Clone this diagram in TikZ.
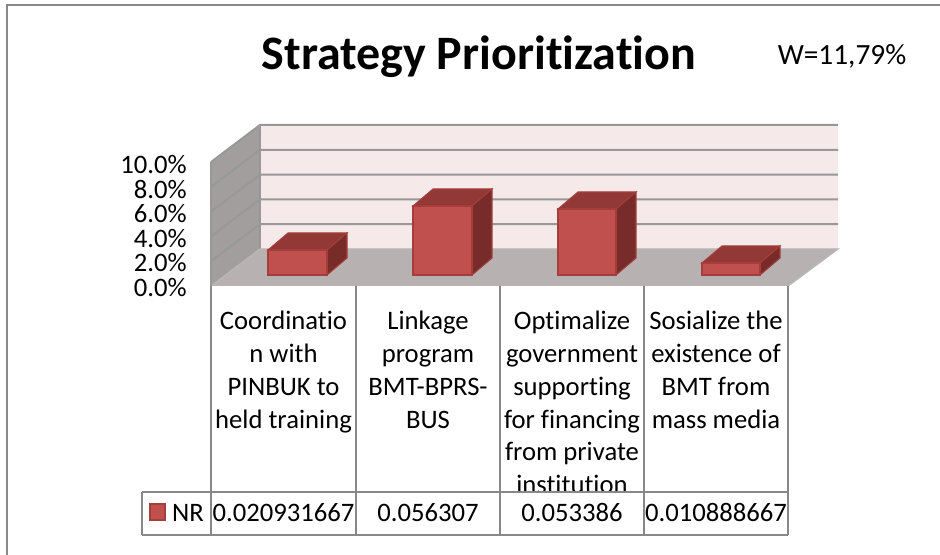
\documentclass[tikz,border=0pt]{standalone}
\usepackage{fontspec}
\setmainfont{Carlito}[Ligatures=NoCommon]
\usepackage{tikz}

\definecolor{wallback}{RGB}{245,233,233}
\definecolor{wallside}{RGB}{163,158,158}
\definecolor{floorgray}{RGB}{184,177,177}
\definecolor{gridgray}{RGB}{152,152,152}
\definecolor{barfront}{RGB}{192,80,77}
\definecolor{bartop}{RGB}{146,56,54}
\definecolor{barside}{RGB}{120,44,42}
\definecolor{baredge}{RGB}{165,62,59}
\definecolor{framegray}{RGB}{136,136,136}

\begin{document}
\begin{tikzpicture}
  [x=0.75pt, y=-0.75pt,
   gline/.style={draw=gridgray, line width=1.5pt},
   tline/.style={draw=framegray, line width=1.5pt},
   barf/.style={fill=barfront, draw=baredge, line width=0.8pt},
   bart/.style={fill=bartop, draw=baredge, line width=0.8pt},
   bars/.style={fill=barside, draw=baredge, line width=0.8pt},
   lbl/.style={inner sep=0, font=\fontsize{20}{24.6}\selectfont},
   cat/.style={lbl, align=center, anchor=north}]

  \useasboundingbox (0,0) rectangle (940,555);

  % outer frame
  \draw[tline] (940,5.5) -- (6.5,5.5) -- (6.5,555);

  % title
  \node[inner sep=0, anchor=base, font=\fontsize{36}{40}\selectfont\bfseries]
    (title) at (479,70) {Strategy Prioritization};
  \node[inner sep=0, anchor=base, font=\fontsize{22}{26}\selectfont]
    (weight) at (842,65) {W=11,79\%};

  % back wall, side wall, floor
  \fill[wallback] (260,125) rectangle (838,249);
  \fill[wallside] (211,162) -- (260,125) -- (260,249) -- (211,286) -- cycle;
  \fill[floorgray] (211,286) -- (260,249) -- (838,249) -- (788,286) -- cycle;

  % grid lines
  \draw[gline] (211,261.2) -- (260,224.2) -- (838,224.2);
  \draw[gline] (211,236.4) -- (260,199.4) -- (838,199.4);
  \draw[gline] (211,211.6) -- (260,174.6) -- (838,174.6);
  \draw[gline] (211,186.8) -- (260,149.8) -- (838,149.8);
  \draw[gline] (211,162) -- (260,125) -- (838,125);
  \draw[gline] (260,125) -- (260,249);
  \draw[draw=gridgray!70, line width=1pt] (211,286) -- (260,249) -- (838,249) -- (788,286);
  \draw[gline] (211,162) -- (211,286);

  % y axis labels
  \node[lbl, anchor=base east] (y0) at (187,296.5) {0.0\%};
  \node[lbl, anchor=base east] (y2) at (187,271.9) {2.0\%};
  \node[lbl, anchor=base east] (y4) at (187,247.3) {4.0\%};
  \node[lbl, anchor=base east] (y6) at (187,222.7) {6.0\%};
  \node[lbl, anchor=base east] (y8) at (187,198.1) {8.0\%};
  \node[lbl, anchor=base east] (y10) at (187,173.5) {10.0\%};

  % bar 1
  \draw[bart] (268,250) -- (288,233) -- (347,233) -- (327,250) -- cycle;
  \draw[bars] (327,250) -- (347,233) -- (347,258) -- (327,275) -- cycle;
  \draw[barf] (268,250) rectangle (327,275);

  % bar 2
  \draw[bart] (413,206) -- (433,189) -- (492,189) -- (472,206) -- cycle;
  \draw[bars] (472,206) -- (492,189) -- (492,258) -- (472,275) -- cycle;
  \draw[barf] (413,206) rectangle (472,275);

  % bar 3
  \draw[bart] (558,209) -- (578,192) -- (636,192) -- (616,209) -- cycle;
  \draw[bars] (616,209) -- (636,192) -- (636,258) -- (616,275) -- cycle;
  \draw[barf] (558,209) rectangle (616,275);

  % bar 4
  \draw[bart] (702,263) -- (722,246) -- (780,246) -- (760,263) -- cycle;
  \draw[bars] (760,263) -- (780,246) -- (780,258) -- (760,275) -- cycle;
  \draw[barf] (702,263) rectangle (760,275);

  % data table
  \draw[tline] (211,286) -- (211,535);
  \draw[tline] (356,286) -- (356,535);
  \draw[tline] (500,286) -- (500,535);
  \draw[tline] (644,286) -- (644,535);
  \draw[tline] (788,286) -- (788,535);
  \draw[tline] (142,492) -- (788,492);
  \draw[tline] (142,535) -- (788,535);
  \draw[tline] (142,492) -- (142,535);

  % category labels
  \node[cat] (c1) at (283.5,311) {Coordinatio\\n with\\PINBUK to\\held training};
  \node[cat] (c2) at (428,311) {Linkage\\program\\BMT-BPRS-\\BUS};
  \begin{scope}
    \clip (500,286) rectangle (644,491);
    \node[cat] (c3) at (572,311)
      {Optimalize\\government\\supporting\\for financing\\from private\\institution};
  \end{scope}
  \node[cat] (c4) at (716,311) {Sosialize the\\existence of\\BMT from\\mass media};

  % legend key and values
  \draw[barf] (150,504) rectangle (165,520);
  \node[lbl, anchor=base] (nr) at (188,521.5) {NR};
  \node[lbl, anchor=base] (v1) at (283.5,521.5) {0.020931667};
  \node[lbl, anchor=base] (v2) at (428,521.5) {0.056307};
  \node[lbl, anchor=base] (v3) at (572,521.5) {0.053386};
  \node[lbl, anchor=base] (v4) at (716,521.5) {0.010888667};

\end{tikzpicture}
\end{document}
